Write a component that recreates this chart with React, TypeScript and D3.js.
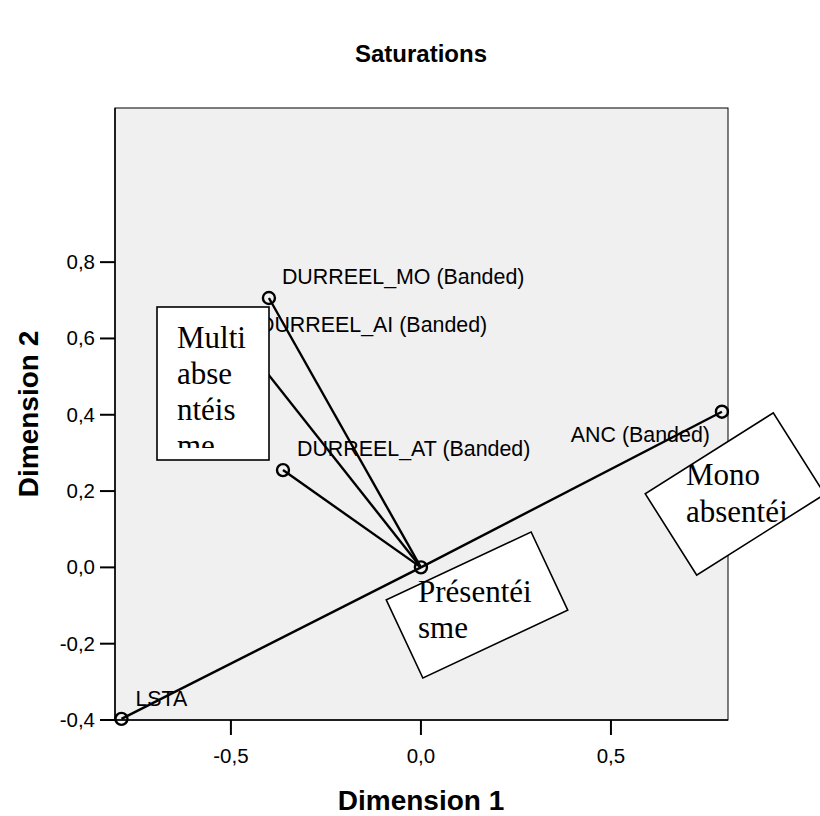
import * as d3 from "d3";

// Saturations (component loadings)
const variables = [
  "DURREEL_MO (Banded)",
  "DURREEL_AI (Banded)",
  "DURREEL_AT (Banded)",
  "ANC (Banded)",
  "LSTA",
  "",
];
const dimension1 = [-0.4, -0.463, -0.363, 0.792, -0.788, 0];
const dimension2 = [0.706, 0.583, 0.255, 0.408, -0.397, 0];

const xTicks = [-0.5, 0, 0.5];
const yTicks = [-0.4, -0.2, 0, 0.2, 0.4, 0.6, 0.8];

// hand-drawn text boxes laid over the chart
const noteLines = [
  ["Multi", "abse", "ntéis", "me"],
  ["Mono", "absentéj"],
  ["Présentéi", "sme"],
];

const W = 820;
const H = 816;
const plot = { left: 115, right: 728, top: 108, bottom: 720 };
const sans = "'Liberation Sans', Arial, Helvetica, sans-serif";
const serif = "'Liberation Serif', 'Times New Roman', serif";

// label placement relative to the point (dx, dy, anchor)
const labelPos = {
  "DURREEL_MO (Banded)": [13, -14, "start"],
  "DURREEL_AI (Banded)": [14, -13, "start"],
  "DURREEL_AT (Banded)": [14, -14, "start"],
  "ANC (Banded)": [-12, 30, "end"],
  LSTA: [14, -13, "start"],
};

// note boxes: centre, width, height, rotation, text x, first baseline, line gap, clip
const notes = [
  { cx: 213, cy: 383.5, w: 112, h: 153, rot: 0, tx: 177, ty: 348, gap: 36, clip: true },
  { cx: 735, cy: 494, w: 151.5, h: 96.3, rot: -32.3, tx: 686, ty: 485, gap: 37, clip: true },
  { cx: 477, cy: 605, w: 160, h: 86.3, rot: -25.1, tx: 418, ty: 602, gap: 36, clip: false },
];

const fmt = (v: number) => d3.format(".1f")(v).replace(".", ",").replace("−", "-");

export default function App() {
  const x = d3.scaleLinear().domain([-0.805, 0.808]).range([plot.left, plot.right]);
  const y = d3.scaleLinear().domain([-0.4, 1.204]).range([plot.bottom, plot.top]);
  const pts = variables.map((name, i) => ({ name, px: x(dimension1[i]), py: y(dimension2[i]) }));

  return (
    <svg
      width={W}
      height={H}
      style={{ position: "absolute", left: 0, top: 0, background: "#fff" }}
      fontFamily={sans}
    >
      <defs>
        {notes.map((n, i) => (
          <clipPath id={`note${i}`} key={i}>
            <rect
              x={n.cx - n.w / 2}
              y={n.cy - n.h / 2}
              width={n.w}
              height={i === 0 ? n.h - 12 : n.h}
              transform={`rotate(${n.rot},${n.cx},${n.cy})`}
            />
          </clipPath>
        ))}
      </defs>

      <text x={421} y={62} textAnchor="middle" fontSize={24} fontWeight="bold">
        Saturations
      </text>

      <rect
        x={plot.left}
        y={plot.top}
        width={plot.right - plot.left}
        height={plot.bottom - plot.top}
        fill="#f0f0f0"
        stroke="#000"
        strokeWidth={1}
      />
      <line x1={plot.left} x2={plot.left} y1={plot.top} y2={plot.bottom} stroke="#000" strokeWidth={1.5} />
      <line x1={plot.left} x2={plot.right} y1={plot.bottom} y2={plot.bottom} stroke="#000" strokeWidth={1.5} />

      {yTicks.map((t) => (
        <g key={t}>
          <line x1={plot.left - 15} x2={plot.left} y1={y(t)} y2={y(t)} stroke="#000" strokeWidth={2} />
          <text x={plot.left - 20} y={y(t) + 7} textAnchor="end" fontSize={20.5}>
            {fmt(t)}
          </text>
        </g>
      ))}
      {xTicks.map((t) => (
        <g key={t}>
          <line x1={x(t)} x2={x(t)} y1={plot.bottom} y2={plot.bottom + 15} stroke="#000" strokeWidth={2} />
          <text x={x(t)} y={plot.bottom + 43} textAnchor="middle" fontSize={20.5}>
            {fmt(t)}
          </text>
        </g>
      ))}

      <text x={421} y={810} textAnchor="middle" fontSize={28} fontWeight="bold">
        Dimension 1
      </text>
      <text
        transform={`translate(38,${(plot.top + plot.bottom) / 2}) rotate(-90)`}
        textAnchor="middle"
        fontSize={28}
        fontWeight="bold"
      >
        Dimension 2
      </text>

      {pts.map((p) => (
        <line key={"l" + p.name} x1={x(0)} y1={y(0)} x2={p.px} y2={p.py} stroke="#000" strokeWidth={2.4} />
      ))}
      {pts.map((p) => (
        <circle key={"c" + p.name} cx={p.px} cy={p.py} r={6} fill="none" stroke="#000" strokeWidth={2.4} />
      ))}
      {pts
        .filter((p) => p.name)
        .map((p) => {
          const [dx, dy, anchor] = labelPos[p.name];
          return (
            <text key={"t" + p.name} x={p.px + dx} y={p.py + dy} textAnchor={anchor} fontSize={21.4}>
              {p.name}
            </text>
          );
        })}

      {notes.map((n, i) => (
        <g key={"n" + i}>
          <rect
            x={n.cx - n.w / 2}
            y={n.cy - n.h / 2}
            width={n.w}
            height={n.h}
            transform={`rotate(${n.rot},${n.cx},${n.cy})`}
            fill="#fff"
            stroke="#000"
            strokeWidth={1.6}
          />
          <g clipPath={n.clip ? `url(#note${i})` : undefined}>
            {noteLines[i].map((s, j) => (
              <text key={j} x={n.tx} y={n.ty + j * n.gap} fontFamily={serif} fontSize={31} fill="#000">
                {s}
              </text>
            ))}
          </g>
        </g>
      ))}
    </svg>
  );
}
